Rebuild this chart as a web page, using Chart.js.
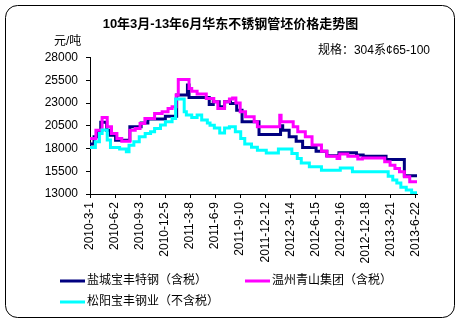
<!DOCTYPE html>
<html>
<head>
<meta charset="utf-8">
<script src="https://cdn.jsdelivr.net/npm/chart.js@4.4.1/dist/chart.umd.min.js"></script>
<style>
    html, body { margin: 0; padding: 0; background: #fff; }
</style>
</head>
<body>
<canvas id="priceChart" width="461" height="325"></canvas>
<script>
    var chartTitle = '10年3月-13年6月华东不锈钢管坯价格走势图';
    var unitText = '元/吨';
    var specText = '规格：304系¢65-100';
    var tickLabels = ['2010-3-1', '2010-6-2', '2010-9-3', '2010-12-5', '2011-3-8', '2011-6-9', '2011-9-10',
        '2011-12-12', '2012-3-14', '2012-6-15', '2012-9-16', '2012-12-18', '2013-3-21', '2013-6-22'];
    var tickStepDays = 93;
    var lastDay = 1215;
    var seriesNames = ['盐城宝丰特钢（含税）', '温州青山集团（含税）', '松阳宝丰钢业（不含税）'];

    // days since 2010-3-1 where the price changes, and the price from that day on
    var ycDays = [0, 15, 30, 40, 62, 75, 95, 148, 190, 215, 280, 322, 362, 368, 443, 458, 480, 500, 522, 545,
        565, 628, 708, 716, 740, 766, 790, 840, 880, 925, 990, 1015, 1100, 1168, 1215];
    var ycPrices = [18500, 19300, 19850, 20900, 20000, 19450, 18900, 20400, 20800, 21250, 21550, 23900, 25000, 23600, 22850, 23150, 22600, 23150, 22950, 22200,
        20950, 19550, 20500, 20000, 19300, 18800, 18100, 17700, 17200, 17550, 17300, 17150, 16800, 15000, 15000];

    var wzDays = [0, 22, 45, 64, 80, 100, 118, 148, 168, 186, 204, 240, 268, 290, 305, 320, 328, 368, 378, 398,
        432, 460, 475, 500, 518, 530, 542, 558, 578, 610, 622, 705, 710, 755, 772, 800, 825, 860, 880, 918,
        928, 958, 995, 1012, 1095, 1115, 1133, 1150, 1168, 1188, 1215];
    var wzPrices = [19100, 20000, 21400, 20400, 19650, 19100, 18800, 20000, 20200, 20750, 21300, 21850, 22050, 22400, 22600, 23900, 25600, 24600, 24300, 24000,
        23500, 23150, 22400, 23150, 23450, 23550, 23000, 22050, 21500, 20950, 20400, 21650, 20950, 20400, 19850, 19300, 18400, 17700, 17150, 16900,
        17400, 17150, 16850, 16950, 16550, 16150, 15800, 15450, 14900, 14350, 14350];

    var syDays = [0, 20, 35, 45, 64, 76, 110, 135, 145, 163, 183, 205, 225, 240, 262, 280, 305, 318, 350, 358,
        378, 398, 415, 436, 446, 462, 482, 500, 518, 540, 560, 575, 600, 622, 655, 700, 750, 770, 785, 815,
        860, 930, 975, 1108, 1125, 1140, 1155, 1175, 1195, 1215];
    var syPrices = [18100, 18750, 19650, 20050, 18950, 18100, 17950, 17650, 18350, 18750, 19300, 19650, 19850, 20200, 20600, 20950, 21300, 23450, 22050, 21700,
        21400, 21700, 21150, 20800, 20550, 20250, 19700, 20250, 20400, 19850, 19100, 18500, 18150, 17800, 17500, 17950, 17450, 16900, 16400, 16000,
        15600, 15850, 15450, 14950, 14550, 14200, 13750, 13450, 13150, 13100];

    var fontFamily = '"Liberation Sans", "Noto Sans CJK SC", sans-serif';

    function toPoints(days, prices) {
        var points = [];
        for (var i = 0; i < days.length; i++) {
            points.push({x: days[i], y: prices[i]});
        }
        return points;
    }

    function buildDataset(name, days, prices, color, order) {
        return {
            label: name,
            data: toPoints(days, prices),
            borderColor: color,
            backgroundColor: color,
            borderWidth: 3,
            pointRadius: 0,
            // hold each price until the next change day
            stepped: 'before',
            fill: false,
            order: order
        };
    }

    var framePlugin = {
        id: 'frame',
        beforeDraw: function (chart) {
            var ctx = chart.ctx;
            ctx.save();
            ctx.fillStyle = '#fff';
            ctx.fillRect(0, 0, chart.width, chart.height);
            ctx.beginPath();
            ctx.roundRect(5.5, 5.5, 449, 312, 12);
            ctx.strokeStyle = '#000';
            ctx.lineWidth = 1;
            ctx.stroke();
            ctx.restore();
        }
    };

    var notesPlugin = {
        id: 'notes',
        afterDraw: function (chart) {
            var ctx = chart.ctx;
            ctx.save();
            ctx.fillStyle = '#000';
            ctx.textBaseline = 'middle';
            ctx.font = '12px ' + fontFamily;
            ctx.textAlign = 'left';
            ctx.fillText(unitText, 54, 42);
            ctx.textAlign = 'right';
            ctx.fillText(specText, 430, 51);

            // legend
            var spots = [[60, 281], [245, 281], [60, 302]];
            ctx.textAlign = 'left';
            chart.data.datasets.forEach(function (ds, i) {
                var p = spots[i];
                ctx.fillStyle = ds.borderColor;
                ctx.fillRect(p[0], p[1] - 1.5, 25, 3);
                ctx.fillStyle = '#000';
                ctx.fillText(ds.label, p[0] + 27, p[1]);
            });
            ctx.restore();
        }
    };

    var ctx = document.getElementById('priceChart').getContext('2d');
    new Chart(ctx, {
        type: 'line',
        data: {
            datasets: [
                buildDataset(seriesNames[0], ycDays, ycPrices, '#000080', 3),
                buildDataset(seriesNames[1], wzDays, wzPrices, '#ff00ff', 2),
                buildDataset(seriesNames[2], syDays, syPrices, '#00ffff', 1)
            ]
        },
        options: {
            responsive: false,
            animation: false,
            devicePixelRatio: 1,
            layout: {padding: {left: 44, right: 44, top: 0, bottom: 0}},
            plugins: {
                legend: {display: false},
                tooltip: {enabled: false},
                title: {
                    display: true,
                    text: chartTitle,
                    color: '#000',
                    font: {family: fontFamily, size: 13, weight: 'bold', lineHeight: 1.2},
                    padding: {top: 17, bottom: 25}
                }
            },
            scales: {
                x: {
                    type: 'linear',
                    min: 0,
                    max: lastDay,
                    afterFit: function (scale) { scale.height = 131; },
                    afterBuildTicks: function (scale) {
                        scale.ticks = tickLabels.map(function (t, i) { return {value: i * tickStepDays}; });
                    },
                    border: {display: true, color: '#000', width: 1},
                    grid: {drawOnChartArea: false, drawTicks: true, tickLength: 4, color: '#000'},
                    ticks: {
                        autoSkip: false,
                        maxRotation: 90,
                        minRotation: 90,
                        padding: 4,
                        color: '#000',
                        font: {family: fontFamily, size: 12},
                        callback: function (value) {
                            return tickLabels[Math.round(value / tickStepDays)];
                        }
                    }
                },
                y: {
                    min: 13000,
                    max: 28000,
                    afterFit: function (scale) { scale.width = 46; },
                    border: {display: true, color: '#000', width: 1},
                    grid: {drawOnChartArea: false, drawTicks: true, tickLength: 4, color: '#000'},
                    ticks: {
                        stepSize: 2500,
                        padding: 8,
                        color: '#000',
                        font: {family: fontFamily, size: 12},
                        callback: function (value) { return String(value); }
                    }
                }
            }
        },
        plugins: [framePlugin, notesPlugin]
    });
</script>
</body>
</html>
